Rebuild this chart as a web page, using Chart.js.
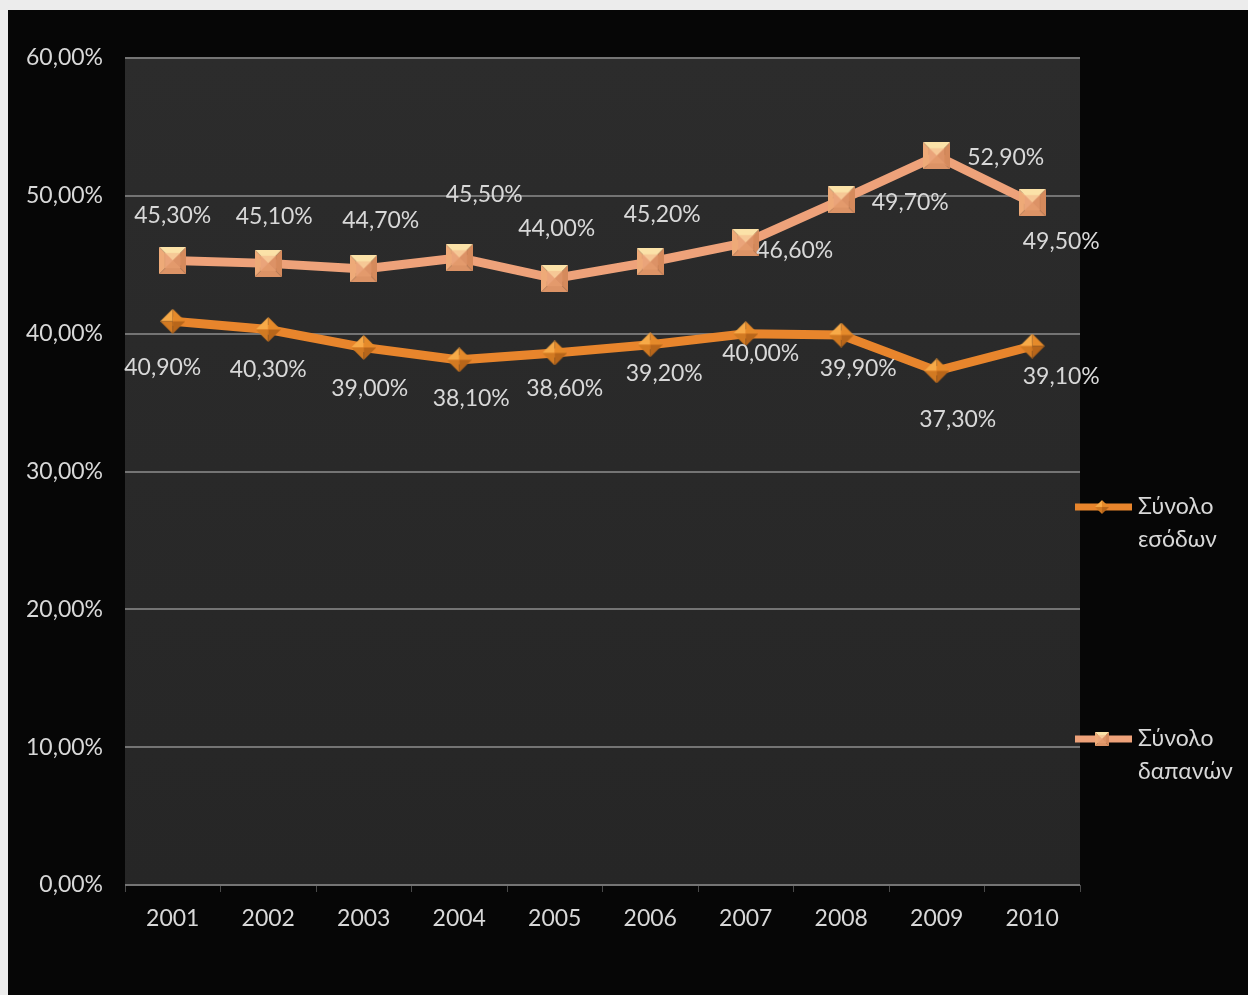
<!DOCTYPE html>
<html>
<head>
<meta charset="utf-8">
<script src="https://cdn.jsdelivr.net/npm/chart.js@4.4.1/dist/chart.umd.min.js"></script>
<style>
  html, body { margin: 0; padding: 0; background: #ececec; }
  #wrap { position: absolute; left: 8px; top: 10px; width: 1240px; height: 985px; background: #060606; }
</style>
</head>
<body>
<div id="wrap"><canvas id="chart"></canvas></div>
<script>
// Δεδομένα
const years = ['2001', '2002', '2003', '2004', '2005', '2006', '2007', '2008', '2009', '2010'];
const incomeValues = [40.9, 40.3, 39.0, 38.1, 38.6, 39.2, 40.0, 39.9, 37.3, 39.1];
const expenseValues = [45.3, 45.1, 44.7, 45.5, 44.0, 45.2, 46.6, 49.7, 52.9, 49.5];
const seriesNames = ['Σύνολο εσόδων', 'Σύνολο δαπανών'];

// μετατόπιση ετικετών δεδομένων (px) ως προς το σημείο
const incomeLabelShift = [[-10, 46], [0, 40], [6, 41], [12, 39], [10, 36], [14, 29], [15, 20], [17, 34], [21, 49], [29, 31]];
const expenseLabelShift = [[0, -45], [6, -47], [17, -48], [25, -63], [2, -50], [12, -47], [49, 8], [69, 3], [69, 2], [29, 39]];

const FONT = 'Lato, "Open Sans", sans-serif';
const TEXT = '#d8d8d8';
const SIZE = 23;

function fmt(v) {
    return v.toFixed(2).replace('.', ',') + '%';
}

// δείκτης τετράγωνο-πυραμίδα
function squareMarker(s) {
    const c = document.createElement('canvas');
    c.width = s; c.height = s;
    const g = c.getContext('2d');
    const m = s / 2, i = s * 0.22;
    const face = (pts, col) => {
        g.beginPath();
        g.moveTo(pts[0][0], pts[0][1]);
        for (let k = 1; k < pts.length; k++) g.lineTo(pts[k][0], pts[k][1]);
        g.closePath();
        g.fillStyle = col;
        g.fill();
    };
    face([[0, 0], [s, 0], [s - i, i], [i, i]], '#fbe2a8');
    face([[0, 0], [i, i], [i, s - i], [0, s]], '#eeaa78');
    face([[s, 0], [s, s], [s - i, s - i], [s - i, i]], '#d58a5c');
    face([[0, s], [s, s], [s - i, s - i], [i, s - i]], '#dc9366');
    face([[i, i], [s - i, i], [s - i, s - i], [i, s - i]], '#eca27a');
    face([[i, i], [s - i, i], [m, m]], '#f6c896');
    face([[i, i], [m, m], [i, s - i]], '#eaa47a');
    face([[s - i, i], [s - i, s - i], [m, m]], '#dc9266');
    face([[i, s - i], [m, m], [s - i, s - i]], '#e39a6c');
    return c;
}

// δείκτης ρόμβος
function diamondMarker(s) {
    const c = document.createElement('canvas');
    c.width = s; c.height = s;
    const g = c.getContext('2d');
    const m = s / 2;
    const face = (pts, col) => {
        g.beginPath();
        g.moveTo(pts[0][0], pts[0][1]);
        for (let k = 1; k < pts.length; k++) g.lineTo(pts[k][0], pts[k][1]);
        g.closePath();
        g.fillStyle = col;
        g.fill();
    };
    face([[m, 0], [0, m], [m, m]], '#f7aa48');
    face([[m, 0], [s, m], [m, m]], '#e58a2a');
    face([[0, m], [m, s], [m, m]], '#d27a22');
    face([[s, m], [m, s], [m, m]], '#b8661a');
    return c;
}

const expenseMarker = squareMarker(27);
const incomeMarker = diamondMarker(25);

// φόντο περιοχής γραφήματος
const plotBackground = {
    id: 'plotBackground',
    beforeDraw(chart) {
        const { ctx, chartArea: a } = chart;
        const grad = ctx.createLinearGradient(0, a.top, 0, a.bottom);
        grad.addColorStop(0, '#2c2c2c');
        grad.addColorStop(1, '#262626');
        ctx.save();
        ctx.fillStyle = grad;
        ctx.fillRect(a.left, a.top, a.right - a.left, a.bottom - a.top);
        ctx.restore();
    }
};

// ετικέτες τιμών
const valueLabels = {
    id: 'valueLabels',
    afterDatasetsDraw(chart) {
        const ctx = chart.ctx;
        const shifts = [incomeLabelShift, expenseLabelShift];
        ctx.save();
        ctx.font = SIZE + 'px ' + FONT;
        ctx.fillStyle = TEXT;
        ctx.textAlign = 'center';
        ctx.textBaseline = 'middle';
        chart.data.datasets.forEach((ds, di) => {
            chart.getDatasetMeta(di).data.forEach((pt, i) => {
                const sh = shifts[di][i];
                ctx.fillText(fmt(ds.data[i]), pt.x + sh[0], pt.y + sh[1]);
            });
        });
        ctx.restore();
    }
};

// υπόμνημα δεξιά
const sideLegend = {
    id: 'sideLegend',
    afterDraw(chart) {
        const ctx = chart.ctx;
        const rows = [497, 729];
        const markers = [incomeMarker, expenseMarker];
        ctx.save();
        chart.data.datasets.forEach((ds, di) => {
            const y = rows[di];
            ctx.strokeStyle = ds.borderColor;
            ctx.lineWidth = 7;
            ctx.beginPath();
            ctx.moveTo(1067, y);
            ctx.lineTo(1124, y);
            ctx.stroke();
            ctx.drawImage(markers[di], 1087, y - 7, 14, 14);
            const words = ds.label.split(' ');
            ctx.font = SIZE + 'px ' + FONT;
            ctx.fillStyle = TEXT;
            ctx.textAlign = 'left';
            ctx.textBaseline = 'middle';
            ctx.fillText(words[0], 1130, y);
            ctx.fillText(words[1], 1130, y + 33);
        });
        ctx.restore();
    }
};

const ctx = document.getElementById('chart').getContext('2d');
const chart = new Chart(ctx, {
    type: 'line',
    data: {
        labels: years,
        datasets: [{
            label: seriesNames[0],
            data: incomeValues,
            borderColor: '#e8852c',
            borderWidth: 9,
            pointStyle: incomeMarker,
            pointRadius: 12,
            tension: 0
        }, {
            label: seriesNames[1],
            data: expenseValues,
            borderColor: '#eea27a',
            borderWidth: 9,
            pointStyle: expenseMarker,
            pointRadius: 13,
            tension: 0
        }]
    },
    plugins: [plotBackground, valueLabels, sideLegend],
    options: {
        responsive: true,
        maintainAspectRatio: false,
        animation: false,
        layout: { padding: { top: 48, right: 168, left: 0, bottom: 0 } },
        plugins: {
            legend: { display: false },
            tooltip: { enabled: false }
        },
        scales: {
            x: {
                offset: true,
                grid: { display: true, drawOnChartArea: false, color: '#4a4a4a', tickLength: 7, offset: true },
                border: { display: false },
                ticks: { color: TEXT, font: { family: FONT, size: SIZE }, padding: 13 },
                afterFit(scale) { scale.height = 110; }
            },
            y: {
                min: 0,
                max: 60,
                ticks: {
                    stepSize: 10,
                    color: TEXT,
                    font: { family: FONT, size: SIZE },
                    padding: 22,
                    callback: (v) => fmt(v)
                },
                grid: { color: '#747474', lineWidth: 2, drawTicks: false },
                border: { display: false },
                afterFit(scale) { scale.width = 117; }
            }
        }
    }
});
</script>
</body>
</html>
